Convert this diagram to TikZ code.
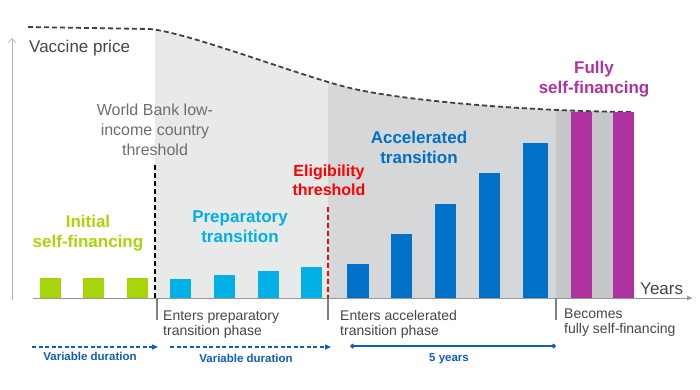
\documentclass[tikz,border=0pt]{standalone}
\usepackage{fontspec}
\setmainfont{Liberation Sans}
\usepackage{xcolor}
\usetikzlibrary{arrows.meta}
\definecolor{figGreen}{RGB}{166,214,8}
\definecolor{figCyan}{RGB}{0,176,230}
\definecolor{figBlue}{RGB}{0,112,200}
\definecolor{figMag}{RGB}{176,50,160}
\definecolor{figRed}{RGB}{255,0,0}
\definecolor{figArr}{RGB}{16,92,192}
\definecolor{figTxt}{RGB}{70,70,70}
\definecolor{figTxtL}{RGB}{110,110,110}
\definecolor{figGrA}{RGB}{232,233,233}
\definecolor{figGrB}{RGB}{214,215,216}
\definecolor{figGrC}{RGB}{198,199,200}
\definecolor{figAxis}{RGB}{150,150,150}
\begin{document}
\begin{tikzpicture}[x=1pt, y=-1pt,
  lbl/.style={font=\fontsize{17}{20}\selectfont\bfseries, align=center, anchor=base, inner sep=0pt},
  note/.style={font=\fontsize{14}{15}\selectfont, text=figTxt, align=left, anchor=base west, inner sep=0pt},
  span/.style={font=\fontsize{11.5}{13}\selectfont\bfseries, text=figArr, anchor=base, inner sep=0pt},
  spanline/.style={figArr, line width=1.2pt},
  tickline/.style={figAxis!85!black, line width=1.5pt},
  thresh/.style={line width=1.7pt, dash pattern=on 5pt off 3pt}]
\useasboundingbox (0,0) rectangle (700,389);
% ---- shaded phases under the price curve ----
\begin{scope}
\clip (150,29) .. controls (190,33) and (300,76) .. (350,88)
  .. controls (400,100) and (520,111) .. (634,112) -- (634,298) -- (150,298) -- cycle;
\fill[figGrA] (155,0) rectangle (328,298);
\fill[figGrB] (328,0) rectangle (556,298);
\fill[figGrC] (556,0) rectangle (634,298);
\end{scope}
% price curve
\draw[thresh, black!75, line width=1.8pt] (28,27) -- (150,29) .. controls (190,33) and (300,76) .. (350,88)
  .. controls (400,100) and (520,111) .. (632,112);
% ---- bars: x / top / width ----
\foreach \x/\t in {40/278,83/278,127/278}{
  \fill[figGreen] (\x,\t) rectangle ({\x+21},298);}
\foreach \x/\t in {170/279,214/275,258/271,301/267}{
  \fill[figCyan] (\x,\t) rectangle ({\x+21},298);}
\foreach \x/\t/\w in {347/264/22,391/234/21,435/204/21,479/173/21,523/143/25}{
  \fill[figBlue] (\x,\t) rectangle ({\x+\w},298);}
\foreach \x in {571,613}{
  \fill[figMag] (\x,112) rectangle ({\x+21},298);}
% ---- axes ----
\draw[figAxis!70, line width=0.8pt, -{Straight Barb[length=4pt, width=8pt]}] (12,300) -- (12,38);
\draw[figAxis, line width=1pt, -{Latex[length=6pt, width=5pt]}] (33,298) -- (693,298);
% thresholds
\draw[thresh, black] (155,165) -- (155,298);
\draw[thresh, figRed] (328,207) -- (328,298);
% ticks under the axis
\foreach \x in {157,328,556}{
  \draw[tickline] (\x,298) -- (\x,320);}
% ---- labels (base = last line) ----
\node[font=\fontsize{17}{20}\selectfont, text=figTxt, anchor=base west, inner sep=0pt] (price) at (29,52) {Vaccine price};
\node[font=\fontsize{17}{20}\selectfont, text=figTxt, anchor=base west, inner sep=0pt] (years) at (640,294) {Years};
\node[font=\fontsize{16}{20}\selectfont, text=figTxtL, align=center, anchor=base, inner sep=0pt] (wb) at (155,155) {World Bank low-\\income country\\threshold};
\node[lbl, text=figGreen] (initial) at (88,247) {Initial\\self-financing};
\node[lbl, text=figCyan] (prep) at (240,242) {Preparatory\\transition};
\node[lbl, text=figRed, font=\fontsize{16}{19}\selectfont\bfseries] (elig) at (329,195) {Eligibility\\threshold};
\node[lbl, text=figBlue] (accel) at (419,163) {Accelerated\\transition};
\node[lbl, text=figMag] (fully) at (594,93) {Fully\\self-financing};
\node[note] (entprep) at (163,335) {Enters preparatory\\transition phase};
\node[note] (entacc) at (340,335) {Enters accelerated\\transition phase};
\node[note] (becomes) at (564,333) {Becomes\\fully self-financing};
% ---- durations ----
\coordinate (vaS) at (32,347);
\coordinate (vaE) at (158,347);
\coordinate (vbS) at (170,347);
\coordinate (vbE) at (331,347);
\coordinate (fyS) at (350,346);
\coordinate (fyE) at (556,346);
\draw[spanline, dash pattern=on 4pt off 2.5pt, -{Triangle[length=6pt, width=5pt]}] (vaS) -- (vaE);
\draw[spanline, dash pattern=on 4pt off 2.5pt, -{Triangle[length=6pt, width=5pt]}] (vbS) -- (vbE);
\draw[spanline, {Diamond[length=5pt, width=5pt]}-{Diamond[length=5pt, width=5pt]}] (fyS) -- (fyE);
\node[span] (vardurA) at (90,360) {Variable duration};
\node[span] (vardurB) at (246,362) {Variable duration};
\node[span] (fiveyr) at (449,361) {5 years};
\end{tikzpicture}
\end{document}
